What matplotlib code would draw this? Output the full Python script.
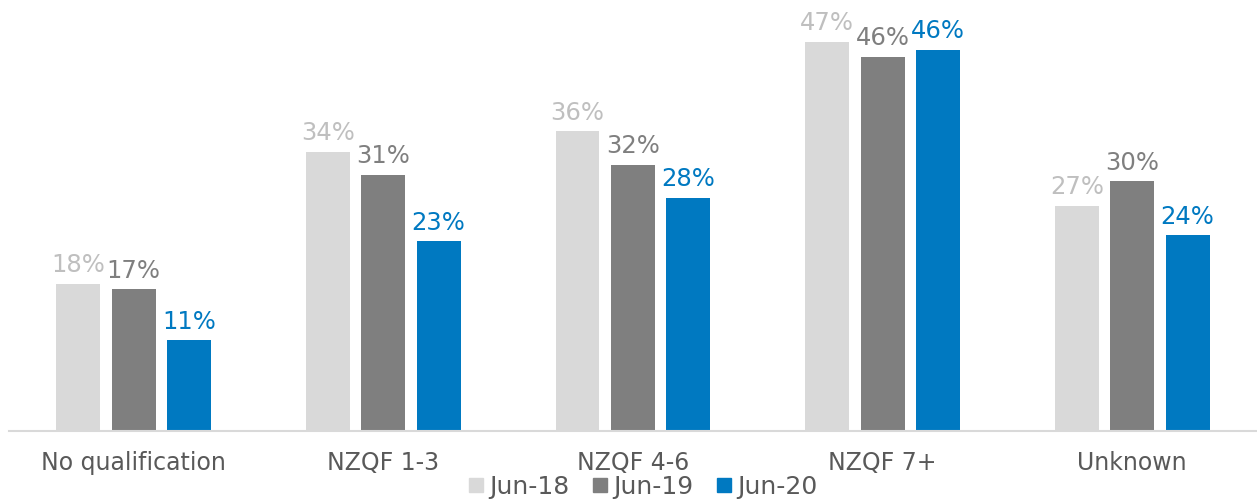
import numpy as np
import matplotlib.pyplot as plt
from matplotlib.lines import Line2D

categories = ['No qualification', 'NZQF 1-3', 'NZQF 4-6', 'NZQF 7+', 'Unknown']
series_names = ['Jun-18', 'Jun-19', 'Jun-20']
jun18 = [17.9, 34.0, 36.5, 47.4, 27.4]
jun19 = [17.2, 31.2, 32.4, 45.6, 30.4]
jun20 = [11.0, 23.1, 28.4, 46.4, 23.8]

bar_colors = ['#D9D9D9', '#7F7F7F', '#0079C1']
label_colors = ['#BFBFBF', '#7F7F7F', '#0079C1']

plt.rcParams['font.family'] = ['DejaVu Sans']

fig = plt.figure(figsize=(12.57, 5.0), dpi=100)
ax = fig.add_axes([0.007, 0.139, 0.993, 0.861])

x = np.arange(len(categories))
w = 0.176
step = 0.222
for i, vals in enumerate([jun18, jun19, jun20]):
    pos = x + (i - 1) * step
    ax.bar(pos, vals, width=w, color=bar_colors[i], zorder=2)
    for p, v in zip(pos, vals):
        ax.text(p, v + 0.8, f'{round(v):.0f}%', ha='center', va='bottom',
                fontsize=17.5, color=label_colors[i])

ax.set_xlim(-0.5, len(categories) - 0.5)
ax.set_ylim(0, 52.5)
ax.set_yticks([])
ax.set_xticks(x)
ax.set_xticklabels(categories, fontsize=17, color='#595959')
ax.tick_params(axis='x', length=0, pad=15)
for s in ['top', 'right', 'left']:
    ax.spines[s].set_visible(False)
ax.spines['bottom'].set_color('#D9D9D9')
ax.spines['bottom'].set_linewidth(1.5)

handles = [Line2D([], [], marker='s', linestyle='none', markersize=9.5,
                  markerfacecolor=c, markeredgecolor=c) for c in bar_colors]
fig.legend(handles, series_names, loc='center', bbox_to_anchor=(0.511, 0.026),
           ncol=3, frameon=False, fontsize=18, labelcolor='#595959',
           handletextpad=0.2, columnspacing=0.85, handlelength=0.7)

fig.savefig('out.png', dpi=100)
